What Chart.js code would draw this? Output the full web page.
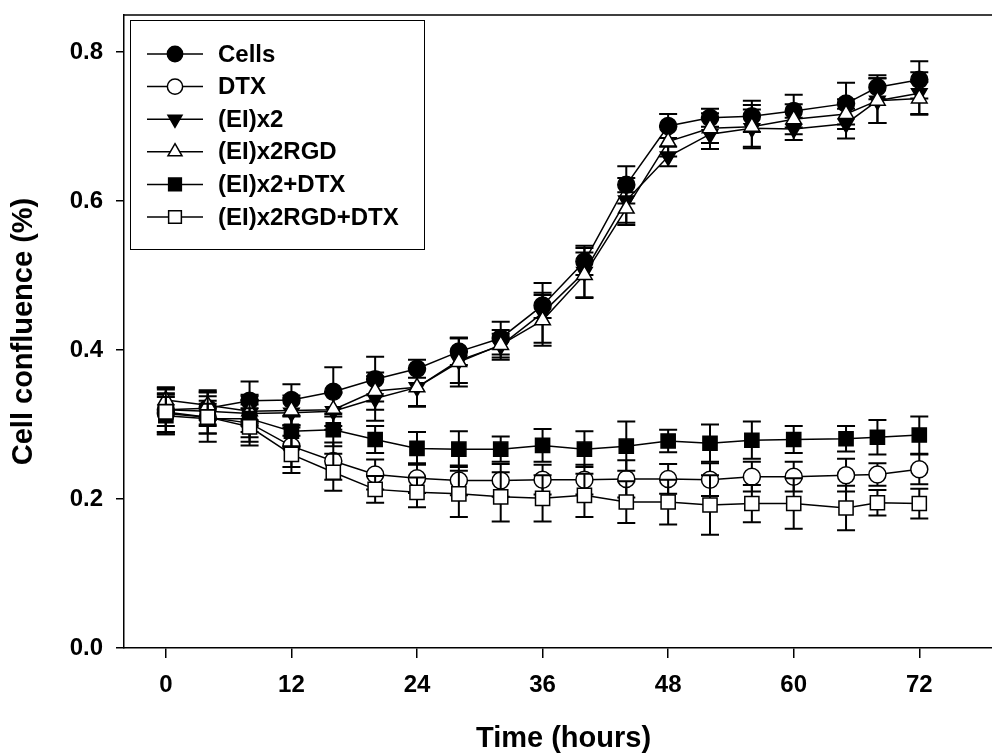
<!DOCTYPE html>
<html>
<head>
<meta charset="utf-8">
<title>Cell confluence</title>
<script src="https://cdn.jsdelivr.net/npm/chart.js@4.4.1/dist/chart.umd.min.js"></script>
<style>
  html, body { margin: 0; padding: 0; background: #fff; overflow: hidden; }
  #wrap { width: 1003px; height: 756px; }
</style>
</head>
<body>
<div id="wrap"><canvas id="chart" width="1003" height="756"></canvas></div>
<script>
// time points (hours)
const hours = [0, 4, 8, 12, 16, 20, 24, 28, 32, 36, 40, 44, 48, 52, 56, 60, 65, 68, 72];

const seriesNames = ['Cells', 'DTX', '(EI)x2', '(EI)x2RGD', '(EI)x2+DTX', '(EI)x2RGD+DTX'];

// means
const cells     = [0.320, 0.322, 0.332, 0.333, 0.344, 0.361, 0.375, 0.398, 0.416, 0.460, 0.519, 0.622, 0.701, 0.712, 0.714, 0.721, 0.731, 0.753, 0.763];
const dtx       = [0.315, 0.310, 0.302, 0.271, 0.251, 0.233, 0.228, 0.225, 0.225, 0.226, 0.226, 0.227, 0.227, 0.226, 0.230, 0.230, 0.232, 0.233, 0.240];
const ei2       = [0.320, 0.318, 0.315, 0.316, 0.318, 0.335, 0.350, 0.386, 0.406, 0.450, 0.505, 0.601, 0.660, 0.690, 0.698, 0.697, 0.704, 0.735, 0.745];
const ei2rgd    = [0.333, 0.326, 0.318, 0.319, 0.320, 0.345, 0.350, 0.384, 0.407, 0.440, 0.501, 0.590, 0.680, 0.698, 0.700, 0.710, 0.717, 0.735, 0.738];
const ei2dtx    = [0.312, 0.308, 0.308, 0.291, 0.293, 0.280, 0.268, 0.267, 0.267, 0.272, 0.267, 0.271, 0.278, 0.275, 0.279, 0.280, 0.281, 0.283, 0.286];
const ei2rgddtx = [0.317, 0.310, 0.297, 0.260, 0.236, 0.213, 0.209, 0.207, 0.203, 0.201, 0.205, 0.196, 0.196, 0.192, 0.194, 0.194, 0.188, 0.195, 0.194];

// error bar half-lengths
const cellsErr     = [0.022, 0.022, 0.026, 0.021, 0.033, 0.030, 0.012, 0.018, 0.022, 0.017, 0.018, 0.025, 0.016, 0.012, 0.021, 0.022, 0.028, 0.016, 0.025];
const dtxErr       = [0.025, 0.022, 0.025, 0.028, 0.025, 0.020, 0.020, 0.020, 0.022, 0.020, 0.020, 0.025, 0.020, 0.022, 0.020, 0.020, 0.022, 0.015, 0.020];
const ei2Err       = [0.030, 0.020, 0.025, 0.020, 0.025, 0.030, 0.025, 0.030, 0.016, 0.040, 0.035, 0.030, 0.013, 0.020, 0.025, 0.015, 0.020, 0.030, 0.028];
const ei2rgdErr    = [0.016, 0.020, 0.020, 0.020, 0.022, 0.025, 0.026, 0.033, 0.020, 0.034, 0.030, 0.022, 0.020, 0.020, 0.029, 0.020, 0.020, 0.030, 0.022];
const ei2dtxErr    = [0.025, 0.020, 0.025, 0.020, 0.022, 0.018, 0.022, 0.024, 0.017, 0.022, 0.024, 0.033, 0.015, 0.025, 0.025, 0.018, 0.017, 0.023, 0.025];
const ei2rgddtxErr = [0.030, 0.033, 0.025, 0.025, 0.025, 0.018, 0.020, 0.031, 0.033, 0.031, 0.029, 0.028, 0.030, 0.040, 0.025, 0.034, 0.030, 0.017, 0.020];

const xTicks = [0, 12, 24, 36, 48, 60, 72];
const yTicks = [0.0, 0.2, 0.4, 0.6, 0.8];

const allValues = [cells, dtx, ei2, ei2rgd, ei2dtx, ei2rgddtx];
const allErrors = [cellsErr, dtxErr, ei2Err, ei2rgdErr, ei2dtxErr, ei2rgddtxErr];

// marker look for each series
const markers = [
  { style: 'circle',   rot: 0,   fill: '#000', r: 8.5 },
  { style: 'circle',   rot: 0,   fill: '#fff', r: 8.5 },
  { style: 'triangle', rot: 180, fill: '#000', r: 9 },
  { style: 'triangle', rot: 0,   fill: '#fff', r: 9 },
  { style: 'rect',     rot: 0,   fill: '#000', r: 10 },
  { style: 'rect',     rot: 0,   fill: '#fff', r: 10 }
];

const FONT = '"Liberation Sans", Arial, Helvetica, sans-serif';

const datasets = seriesNames.map((name, i) => ({
  label: name,
  data: hours.map((h, j) => ({ x: h, y: allValues[i][j] })),
  borderColor: '#000',
  borderWidth: 1.5,
  tension: 0,
  pointStyle: markers[i].style,
  pointRotation: markers[i].rot,
  pointRadius: markers[i].r,
  pointBackgroundColor: markers[i].fill,
  pointBorderColor: '#000',
  pointBorderWidth: 1.5,
  order: seriesNames.length - i     // later series drawn on top
}));

// error bars, drawn under each series' own line and markers
const errorBars = {
  id: 'errorBars',
  beforeDatasetDraw(chart, args) {
    const i = args.index;
    const err = allErrors[i];
    const xs = chart.scales.x, ys = chart.scales.y;
    const ctx = chart.ctx;
    const cap = 9;
    ctx.save();
    ctx.strokeStyle = '#000';
    ctx.lineWidth = 2;
    hours.forEach((h, j) => {
      const px = xs.getPixelForValue(h);
      const top = ys.getPixelForValue(allValues[i][j] + err[j]);
      const bot = ys.getPixelForValue(allValues[i][j] - err[j]);
      ctx.beginPath();
      ctx.moveTo(px, top); ctx.lineTo(px, bot);
      ctx.moveTo(px - cap, top); ctx.lineTo(px + cap, top);
      ctx.moveTo(px - cap, bot); ctx.lineTo(px + cap, bot);
      ctx.stroke();
    });
    ctx.restore();
  }
};

// frame on top/right and the boxed legend
const frameAndLegend = {
  id: 'frameAndLegend',
  afterDraw(chart) {
    const ctx = chart.ctx;
    const a = chart.chartArea;
    ctx.save();
    ctx.strokeStyle = '#000';
    ctx.lineWidth = 1.5;
    ctx.beginPath();
    ctx.moveTo(a.left, a.top);
    ctx.lineTo(a.right, a.top);
    ctx.lineTo(a.right, a.bottom);
    ctx.stroke();

    // legend box
    ctx.lineWidth = 1;
    ctx.strokeRect(130.5, 20.5, 294, 229);
    ctx.font = 'bold 24px ' + FONT;
    ctx.textBaseline = 'middle';
    ctx.fillStyle = '#000';
    seriesNames.forEach((name, i) => {
      const y = 54 + i * 32.6;
      ctx.lineWidth = 1.5;
      ctx.beginPath();
      ctx.moveTo(147, y); ctx.lineTo(203, y);
      ctx.stroke();
      ctx.fillStyle = markers[i].fill;
      Chart.helpers.drawPoint(ctx, {
        pointStyle: markers[i].style,
        rotation: markers[i].rot,
        radius: markers[i].r * 0.9,
        borderWidth: 1.5
      }, 175, y);
      ctx.fillStyle = '#000';
      ctx.fillText(name, 218, y + 1);
    });
    ctx.restore();
  }
};

new Chart(document.getElementById('chart'), {
  type: 'line',
  data: { datasets },
  plugins: [errorBars, frameAndLegend],
  options: {
    responsive: false,
    animation: false,
    layout: { autoPadding: false, padding: { top: 15, left: 0, right: 0, bottom: 0 } },
    plugins: { legend: { display: false }, tooltip: { enabled: false } },
    scales: {
      x: {
        type: 'linear',
        min: -4,
        max: 80,
        afterBuildTicks: s => { s.ticks = xTicks.map(v => ({ value: v })); },
        afterFit: s => { s.height = 108; s.paddingLeft = 0; s.paddingRight = 0; },
        grid: { drawOnChartArea: false, drawTicks: true, tickLength: 10, color: '#000', lineWidth: 1.5 },
        border: { display: true, color: '#000', width: 1.5 },
        ticks: {
          color: '#000',
          padding: 13,
          maxRotation: 0,
          font: { family: FONT, size: 24, weight: 'bold' },
          callback: v => String(v)
        },
        title: {
          display: true,
          text: 'Time (hours)',
          color: '#000',
          padding: { top: 0, bottom: 0 },
          font: { family: FONT, size: 29, weight: 'bold' }
        }
      },
      y: {
        type: 'linear',
        min: 0,
        max: 0.85,
        afterBuildTicks: s => { s.ticks = yTicks.map(v => ({ value: v })); },
        afterFit: s => { s.width = 124; s.paddingTop = 0; s.paddingBottom = 0; },
        grid: { drawOnChartArea: false, drawTicks: true, tickLength: 8, color: '#000', lineWidth: 1.5 },
        border: { display: true, color: '#000', width: 1.5 },
        ticks: {
          color: '#000',
          padding: 13,
          font: { family: FONT, size: 24, weight: 'bold' },
          callback: v => v.toFixed(1)
        },
        title: {
          display: true,
          text: 'Cell confluence (%)',
          color: '#000',
          padding: { top: 7, bottom: 0 },
          font: { family: FONT, size: 29, weight: 'bold' }
        }
      }
    }
  }
});
</script>
</body>
</html>
